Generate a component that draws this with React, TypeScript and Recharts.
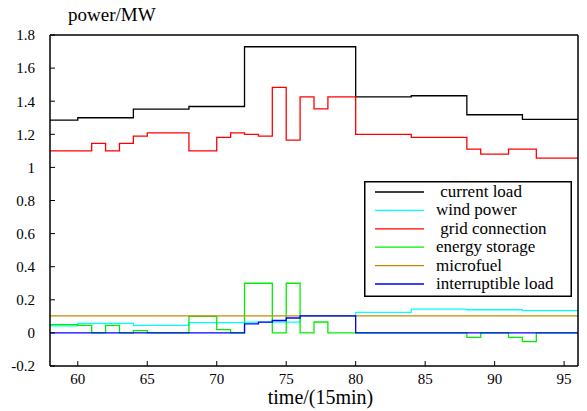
import React from 'react';
import { LineChart, Line, XAxis, YAxis, Legend } from 'recharts';

const xTicks = [60, 65, 70, 75, 80, 85, 90, 95];
const yTicks = [-0.2, 0, 0.2, 0.4, 0.6, 0.8, 1, 1.2, 1.4, 1.6, 1.8];

const loadTimes = [58, 60, 64, 68, 72, 80, 84, 88, 92, 96];
const loadValues = [1.286, 1.3, 1.352, 1.368, 1.729, 1.426, 1.433, 1.318, 1.29, 1.29];

const windTimes = [58, 60, 64, 68, 72, 76, 80, 84, 88, 92, 96];
const windValues = [0.043, 0.057, 0.045, 0.062, 0.065, 0.103, 0.124, 0.144, 0.14, 0.134, 0.134];

const gridTimes = [58, 61, 62, 63, 64, 65, 68, 70, 71, 72, 73, 74, 75, 76, 77, 78, 80, 84, 88, 89, 91, 93, 96];
const gridValues = [1.1, 1.145, 1.1, 1.145, 1.189, 1.209, 1.1, 1.181, 1.209, 1.199, 1.189, 1.483, 1.165, 1.426, 1.354, 1.426, 1.199, 1.181, 1.11, 1.08, 1.11, 1.056, 1.056];

const storageTimes = [58, 60, 61, 62, 63, 64, 65, 68, 70, 71, 72, 74, 75, 76, 77, 78, 88, 89, 91, 92, 93, 96];
const storageValues = [0.05, 0.045, 0, 0.045, 0, 0.014, 0, 0.1, 0.02, 0, 0.3, 0, 0.3, 0, 0.066, 0, -0.027, 0, -0.027, -0.053, 0, 0];

const fuelTimes = [58, 96];
const fuelValues = [0.103, 0.103];

const interruptTimes = [58, 72, 73, 74, 75, 76, 80, 96];
const interruptValues = [0, 0.055, 0.065, 0.075, 0.09, 0.103, 0, 0];

const toSeries = (times: number[], values: number[]) => times.map((t, i) => ({ t, v: values[i] }));

const FONT = '"Liberation Serif", "Times New Roman", Times, serif';

const series = [
  { name: ' current load', color: '#000000', data: toSeries(loadTimes, loadValues) },
  { name: 'wind power', color: '#00ffff', data: toSeries(windTimes, windValues) },
  { name: ' grid connection', color: '#ff0000', data: toSeries(gridTimes, gridValues) },
  { name: 'energy storage', color: '#00ee00', data: toSeries(storageTimes, storageValues) },
  { name: 'microfuel', color: '#c88a00', data: toSeries(fuelTimes, fuelValues) },
  { name: 'interruptible load', color: '#0000ff', data: toSeries(interruptTimes, interruptValues) },
];

function LegendBox() {
  return (
    <svg width={208} height={116} style={{ display: 'block' }}>
      <rect x={0.75} y={0.75} width={206.5} height={114.5} fill="#fff" stroke="#000" strokeWidth={1.5} />
      {series.map((s, i) => {
        const cy = 11 + i * 18.4;
        return (
          <g key={i}>
            <line x1={11} x2={60} y1={cy} y2={cy} stroke={s.color} strokeWidth={1.3} />
            <text
              x={72}
              y={cy + 5}
              fontFamily={FONT}
              fontSize={17}
              fill="#000"
              style={{ whiteSpace: 'pre' }}
            >
              {s.name}
            </text>
          </g>
        );
      })}
    </svg>
  );
}

const yLabel = () => (
  <text x={68} y={21} fontFamily={FONT} fontSize={19} fill="#000">
    power/MW
  </text>
);

const xLabel = () => (
  <text x={320.5} y={404} textAnchor="middle" fontFamily={FONT} fontSize={20} fill="#000">
    time/(15min)
  </text>
);

const tickStyle = { fontFamily: FONT, fontSize: 15, fill: '#000' };

export default function App() {
  return (
    <div style={{ position: 'absolute', left: 0, top: 0, width: 587, height: 411, background: '#fff' }}>
      <LineChart width={587} height={411} margin={{ top: 0, right: 0, bottom: 0, left: 0 }}>
        <XAxis
          dataKey="t"
          type="number"
          domain={[58, 96]}
          ticks={xTicks}
          allowDataOverflow
          height={45}
          tickSize={-5}
          tickMargin={12}
          tick={tickStyle}
          axisLine={{ stroke: '#000', strokeWidth: 1.5 }}
          tickLine={{ stroke: '#000', strokeWidth: 1 }}
          label={xLabel}
        />
        <XAxis
          xAxisId="top"
          orientation="top"
          dataKey="t"
          type="number"
          domain={[58, 96]}
          ticks={xTicks}
          allowDataOverflow
          height={35}
          tickSize={-5}
          tick={false}
          axisLine={{ stroke: '#000', strokeWidth: 1.5 }}
          tickLine={{ stroke: '#000', strokeWidth: 1 }}
        />
        <YAxis
          type="number"
          domain={[-0.2, 1.8]}
          ticks={yTicks}
          allowDataOverflow
          width={50}
          tickSize={-5}
          tickMargin={20}
          tick={tickStyle}
          tickFormatter={(v: number) => String(Number(v.toFixed(1)))}
          axisLine={{ stroke: '#000', strokeWidth: 1.5 }}
          tickLine={{ stroke: '#000', strokeWidth: 1 }}
          label={yLabel}
        />
        <YAxis
          yAxisId="right"
          orientation="right"
          type="number"
          domain={[-0.2, 1.8]}
          ticks={yTicks}
          allowDataOverflow
          width={9}
          tickSize={-5}
          tick={false}
          axisLine={{ stroke: '#000', strokeWidth: 1.5 }}
          tickLine={{ stroke: '#000', strokeWidth: 1 }}
        />
        {series.map((s) => (
          <Line
            key={s.name}
            data={s.data}
            dataKey="v"
            name={s.name}
            type="stepAfter"
            stroke={s.color}
            strokeWidth={1.3}
            dot={false}
            activeDot={false}
            isAnimationActive={false}
          />
        ))}
        <Legend
          layout="vertical"
          align="center"
          verticalAlign="middle"
          content={LegendBox}
          wrapperStyle={{ left: 364, top: 181, width: 208, height: 116 }}
        />
      </LineChart>
    </div>
  );
}
